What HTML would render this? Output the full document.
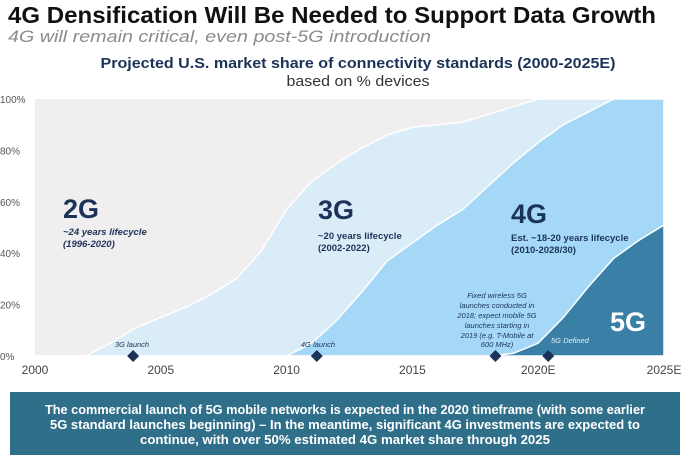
<!DOCTYPE html>
<html><head><meta charset="utf-8"><style>
body{margin:0;background:#fff;width:700px;height:460px;overflow:hidden;font-family:"Liberation Sans",sans-serif}
svg{display:block}
</style></head><body>
<svg id="chart" width="700" height="460" viewBox="0 0 700 460">
<text x="8" y="23" font-size="23" font-weight="bold" fill="#111" textLength="648" lengthAdjust="spacingAndGlyphs">4G Densification Will Be Needed to Support Data Growth</text>
<text x="8" y="42" font-size="17" font-style="italic" fill="#8c8c8c" textLength="423" lengthAdjust="spacingAndGlyphs">4G will remain critical, even post-5G introduction</text>
<text x="358" y="68" text-anchor="middle" font-size="15" font-weight="bold" fill="#1b3358" textLength="515" lengthAdjust="spacingAndGlyphs">Projected U.S. market share of connectivity standards (2000-2025E)</text>
<text x="358" y="86" text-anchor="middle" font-size="15" fill="#333" textLength="143" lengthAdjust="spacingAndGlyphs">based on % devices</text>
<g id="plot"></g>
<g id="axes"></g>
<g id="labels">
<text x="63" y="218" font-size="27" font-weight="bold" fill="#1b3358">2G</text>
<text x="63" y="235" font-size="9.5" font-weight="bold" font-style="italic" fill="#1b3358">~24 years lifecycle</text>
<text x="63" y="247" font-size="9.5" font-weight="bold" font-style="italic" fill="#1b3358">(1996-2020)</text>
<text x="318" y="219" font-size="27" font-weight="bold" fill="#1b3358">3G</text>
<text x="318" y="239" font-size="9.5" font-weight="bold" fill="#1b3358">~20 years lifecycle</text>
<text x="318" y="251" font-size="9.5" font-weight="bold" fill="#1b3358">(2002-2022)</text>
<text x="511" y="223" font-size="27" font-weight="bold" fill="#1b3358">4G</text>
<text x="511" y="241" font-size="9.5" font-weight="bold" fill="#1b3358">Est. ~18-20 years lifecycle</text>
<text x="511" y="253" font-size="9.5" font-weight="bold" fill="#1b3358">(2010-2028/30)</text>
<text x="610" y="331" font-size="27" font-weight="bold" fill="#fff">5G</text>
<text x="132" y="347" text-anchor="middle" font-size="7.5" font-style="italic" fill="#1b3358">3G launch</text>
<text x="318" y="347" text-anchor="middle" font-size="7.5" font-style="italic" fill="#1b3358">4G launch</text>
<g font-size="7.5" font-style="italic" fill="#1b3358" text-anchor="middle">
<text x="497" y="298">Fixed wireless 5G</text>
<text x="497" y="308">launches conducted in</text>
<text x="497" y="318">2018; expect mobile 5G</text>
<text x="497" y="328">launches starting in</text>
<text x="497" y="338">2019 (e.g. T-Mobile at</text>
<text x="497" y="347">600 MHz)</text>
</g>
<text x="551" y="343" font-size="7.5" font-style="italic" fill="#e8f2f8">5G Defined</text>
</g>
<g id="markers"></g>
<rect x="10" y="392" width="670" height="63" fill="#306f8a"/>
<g font-size="13" font-weight="bold" fill="#fff" text-anchor="middle">
<text x="345" y="414" textLength="600" lengthAdjust="spacingAndGlyphs">The commercial launch of 5G mobile networks is expected in the 2020 timeframe (with some earlier</text>
<text x="345" y="429" textLength="590" lengthAdjust="spacingAndGlyphs">5G standard launches beginning) – In the meantime, significant 4G investments are expected to</text>
<text x="345" y="444" textLength="410" lengthAdjust="spacingAndGlyphs">continue, with over 50% estimated 4G market share through 2025</text>
</g>
</svg>
<script>
const years=[2000,2001,2002,2003,2004,2005,2006,2007,2008,2009,2010,2011,2012,2013,2014,2015,2016,2017,2018,2019,2020,2021,2022,2023,2024,2025];
const top3G=[0,0,0,5,11,15,19,24,30,41,57,68,75,81,86,89,90,91,94,97,100,100,100,100,100,100];
const top4G=[0,0,0,0,0,0,0,0,0,0,0,5,14,25,37,44,51,57,66,75,83,90,95,100,100,100];
const top5G=[0,0,0,0,0,0,0,0,0,0,0,0,0,0,0,0,0,0,0,1,5,15,27,38,45,51];
const yTicks=[0,20,40,60,80,100];
const xTicks=[2000,2005,2010,2015,2020,2025];
const xTickLabels=["2000","2005","2010","2015","2020E","2025E"];
const markerYears=[2003.9,2011.2,2018.3,2020.4];
const NS="http://www.w3.org/2000/svg";
const X=y=>35+(y-2000)*(629/25);
const Y=v=>356-v*2.57;
function el(t,a,p){const e=document.createElementNS(NS,t);for(const k in a)e.setAttribute(k,a[k]);p.appendChild(e);return e;}
const plot=document.getElementById('plot');
const bg=el('rect',{x:X(2000),y:Y(100),width:X(2025)-X(2000),height:Y(0)-Y(100),fill:'#f0eeef'},plot);


function area(vals,fill,name){
  let d='M'+X(years[0])+','+Y(0);
  vals.forEach((v,i)=>{d+=' L'+X(years[i])+','+Y(v);});
  d+=' L'+X(years[years.length-1])+','+Y(0)+' Z';
  const p=el('path',{d:d,fill:fill,stroke:'#fff','stroke-width':1.5,'stroke-linejoin':'round'},plot);
  
  
}
area(top3G,'#dbecf9','area-3g');
area(top4G,'#a5d8f6','area-4g');
area(top5G,'#3a7fa6','area-5g');
const axes=document.getElementById('axes');
yTicks.forEach(v=>{
  const t=el('text',{x:0,y:Y(v)+4,'font-size':10,fill:'#555'},axes);
  t.textContent=v+'%';
  
  
});
xTicks.forEach((v,i)=>{
  const t=el('text',{x:X(v),y:374,'font-size':12,fill:'#444','text-anchor':'middle'},axes);
  t.textContent=xTickLabels[i];
  
  
});
const mk=document.getElementById('markers');
markerYears.forEach(yr=>{
  const cx=X(yr),cy=356;
  const d=el('path',{d:`M${cx},${cy-6} L${cx+6},${cy} L${cx},${cy+6} L${cx-6},${cy} Z`,fill:'#1b3358'},mk);
  
  
});
</script>
</body></html>
